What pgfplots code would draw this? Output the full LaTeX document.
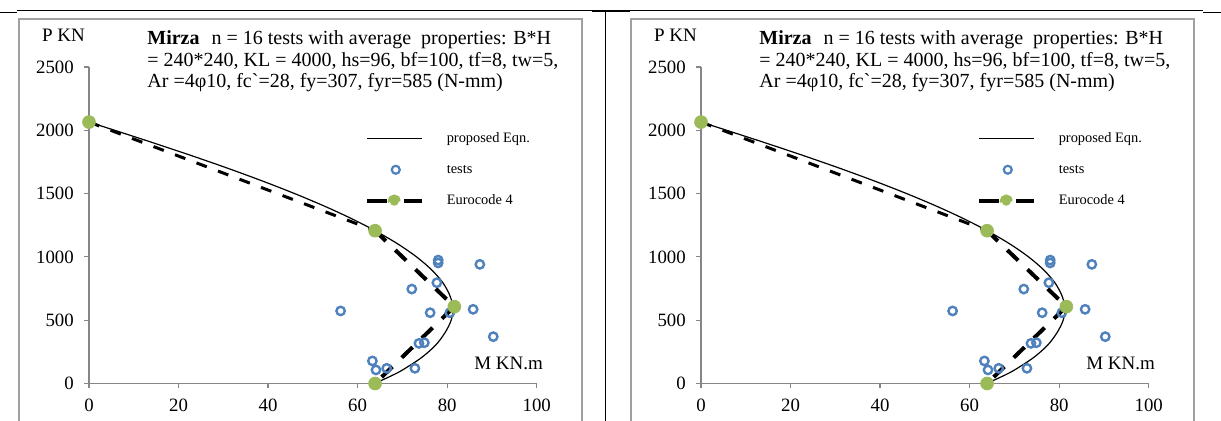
\documentclass[border=0pt]{standalone}
\usepackage{fontspec}
\setmainfont{Liberation Serif}
\usepackage{pgfplots}
\pgfplotsset{compat=1.18}
\usepackage{pgfplotstable}
\definecolor{xlblue}{HTML}{4F81BD}
\definecolor{xlgreen}{HTML}{9BBB59}
\definecolor{axgray}{HTML}{868686}
\definecolor{frgray}{HTML}{A0A0A0}

\pgfplotstableread{
M P
0 2065
5.74 2000
14.44 1900
22.89 1800
31.0 1700
38.7 1600
45.94 1500
52.65 1400
58.78 1300
64.27 1200
69.08 1100
73.16 1000
76.47 900
78.96 800
80.55 700
81.3 600
80.9 500
79.5 400
77.35 300
74.1 200
69.7 100
66.9 50
64.65 14
}\propdata

\pgfplotstableread{
M P
78.0 975
78.0 952
87.3 941
72.1 746
77.7 796
56.2 573
76.2 559
80.6 559
85.8 586
90.3 370
73.7 317
74.9 322
63.3 178
64.1 107
66.5 120
72.8 120
}\testdata

\pgfplotstableread{
M P
0 2065
63.9 1207
}\ecup

\pgfplotstableread{
M P
63.9 1207
81.6 607
63.9 0
}\eclow

\pgfplotstableread{
M P
0 2065
63.9 1207
81.6 607
63.9 0
}\ecpts

\pgfplotsset{
 panel/.style={
  scale only axis, width=223.85pt, height=158.25pt, anchor=south west,
  xmin=0, xmax=100, ymin=0, ymax=2500,
  xtick={0,20,...,100}, ytick={0,500,...,2500},
  axis lines*=left,
  axis line style={axgray, line width=0.6pt},
  every tick/.style={axgray, line width=0.6pt},
  tick align=outside, major tick length=2.5pt,
  tick label style={font=\fontsize{9.4}{10}\selectfont, text=black},
  /pgf/number format/assume math mode=true,
  /pgf/number format/1000 sep={},
  xticklabel style={yshift=-1.7pt},
  yticklabel style={xshift=-1.6pt},
  clip=false,
  xlabel={M KN.m}, ylabel={P KN},
  every axis x label/.style={at={(axis description cs:1.0297,0.0648)}, anchor=east, font=\fontsize{9.5}{11}\selectfont},
  every axis y label/.style={at={(axis description cs:-0.1206,1.1011)}, anchor=west, font=\fontsize{9.5}{11}\selectfont},
  legend style={draw=none, fill=none, at={(axis cs:61.6,2005)}, anchor=north west,
    inner sep=0pt, outer sep=0pt, font=\fontsize{7.2}{8}\selectfont,
    row sep=7.0pt, column sep=10.5pt,
    nodes={inner sep=1pt, text height=5.2pt, text depth=1.5pt}},
  legend cell align=left,
 }
}

\newcommand\panelbody{%
  \addplot[black, line width=0.6pt, smooth, no markers,
    legend image code/.code={\draw[black, line width=0.6pt] (0pt,0pt) -- (27.5pt,0pt);}]
    table {\propdata};
  \addlegendentry{proposed Eqn.}
  \addplot[only marks, mark=o, mark size=2.1pt, mark options={xlblue, line width=1.2pt},
    legend image code/.code={\path (0pt,0pt) (27.5pt,0pt); \draw[xlblue, line width=1.1pt] (14.5pt,0pt) circle[radius=2pt];}]
    table {\testdata};
  \addlegendentry{tests}
  \addplot[black, line width=1.5pt, dash pattern=on 5.5pt off 6pt, no markers, forget plot]
    table {\ecup};
  \addplot[black, line width=2pt, dash pattern=on 7.5pt off 6.5pt, no markers,
    legend image code/.code={\draw[black, line width=2pt, dash pattern=on 10pt off 8.5pt] (0pt,0pt) -- (27.5pt,0pt); \fill[xlgreen] (13.75pt,0pt) circle[radius=2.3pt];}]
    table {\eclow};
  \addlegendentry{Eurocode 4}
  \addplot[only marks, mark=*, mark size=3.2pt, mark options={draw=xlgreen, fill=xlgreen}, forget plot]
    table {\ecpts};
}

\newcommand\titletext[1]{%
  \node[anchor=base west, font=\fontsize{10}{11}\selectfont, inner sep=0pt] at (#1,-22.5pt)
    {\textbf{Mirza}\hspace{6pt}n = 16 tests with average\ \ properties: B*H};
  \node[anchor=base west, font=\fontsize{10}{11}\selectfont, inner sep=0pt] at (#1,-33.25pt)
    {= 240*240, KL = 4000, hs=96, bf=100, tf=8, tw=5,};
  \node[anchor=base west, font=\fontsize{10}{11}\selectfont, inner sep=0pt] at (#1,-44pt)
    {Ar =4φ10, fc\textasciigrave=28, fy=307, fyr=585 (N-mm)};
}

\begin{document}
\begin{tikzpicture}
\useasboundingbox (0pt,0pt) rectangle (610.5pt,-210.5pt);
% table borders
\draw[black, line width=0.8pt] (0pt,-6.2pt) -- (8.5pt,-6.2pt);
\draw[black, line width=0.8pt] (8.5pt,-5.3pt) -- (601.5pt,-5.3pt);
\draw[black, line width=0.8pt] (601.5pt,-6.2pt) -- (610.5pt,-6.2pt);
\draw[black, line width=1.2pt] (296pt,-5.5pt) -- (315pt,-5.5pt);
\draw[black, line width=0.8pt] (302.75pt,-5.3pt) -- (302.75pt,-212pt);
% chart frames
\draw[frgray, line width=0.6pt] (9.5pt,-212pt) -- (9.5pt,-9.5pt) -- (291pt,-9.5pt) -- (291pt,-212pt);
\draw[frgray, line width=0.6pt] (315.5pt,-212pt) -- (315.5pt,-9.5pt) -- (597pt,-9.5pt) -- (597pt,-212pt);

\begin{axis}[panel, at={(44.5pt,-191.75pt)}]
\panelbody
\end{axis}
\begin{axis}[panel, at={(350.5pt,-191.75pt)}]
\panelbody
\end{axis}
\titletext{73.5pt}
\titletext{379.5pt}
\end{tikzpicture}
\end{document}
